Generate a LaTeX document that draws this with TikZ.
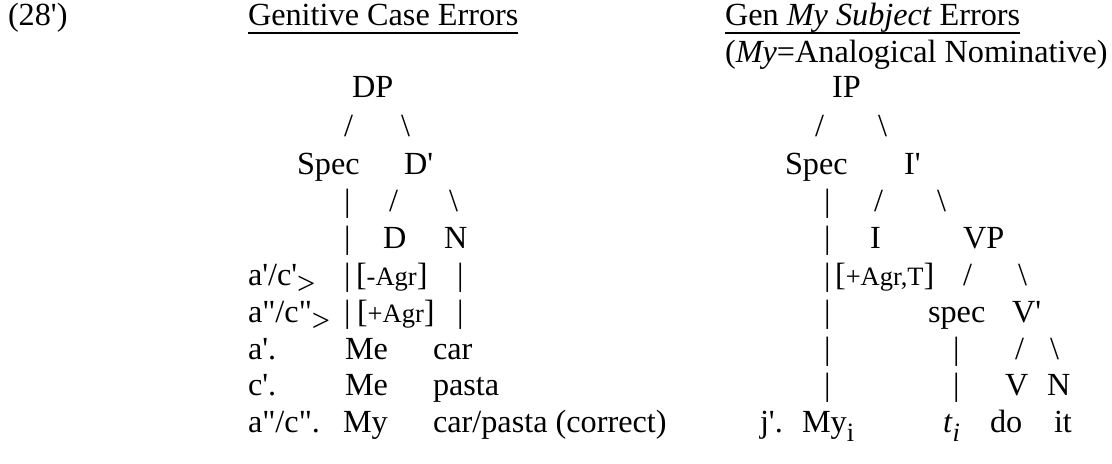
\documentclass[tikz,border=0pt]{standalone}
\usepackage{fontspec}
\setmainfont{Liberation Serif}
\usepackage{tikz}
% straight tick marks, kept out of the tex-text mapping
\newcommand{\tk}{\XeTeXglyph\XeTeXcharglyph"27\relax}
\newcommand{\dtk}{\XeTeXglyph\XeTeXcharglyph"22\relax}
\newcommand{\sm}{\fontsize{10.6}{12}\selectfont}
\newcommand{\low}[1]{\raisebox{-3.6pt}{#1}}

\begin{document}
\begin{tikzpicture}[x=0.4pt, y=-0.4pt]
          \tikzstyle{w} = [anchor=base west, inner sep=0pt, outer sep=0pt, font=\fontsize{12.9}{14}\selectfont]
          \tikzstyle{uline} = [line width=0.8pt]

          \useasboundingbox (0,0) rectangle (1112,463);

          % headings
          \node[w] (ex) at (8,25) {(28\tk)};
          \node[w] (ttl) at (248,25) {Genitive Case Errors};
          \node[w] (ttr) at (725,25) {Gen \textit{My Subject} Errors};
          \node[w] (sub) at (725,62) {(\textit{My}=Analogical Nominative)};
          \draw[uline] ([yshift=-3pt]ttl.base west) -- ([yshift=-3pt]ttl.base east);
          \draw[uline] ([yshift=-3pt]ttr.base west) -- ([yshift=-3pt]ttr.base east);

          % DP tree
          \node[w] (dp) at (352,97) {DP};
          \node[w] (dpsl) at (344,136) {/};
          \node[w] (dpbs) at (401,136) {\textbackslash};
          \node[w] (dspec) at (297,174) {Spec};
          \node[w] (dbar) at (404,174) {D\tk};
          \node[w] (dv1) at (344,211) {|};
          \node[w] (dbsl) at (389,211) {/};
          \node[w] (dbbs) at (449,211) {\textbackslash};
          \node[w] (dv2) at (344,248) {|};
          \node[w] (d) at (383,248) {D};
          \node[w] (n) at (444,248) {N};
          \node[w] (ac1) at (248,285) {a\tk/c\tk\low{>}};
          \node[w] (dv3) at (344,285) {|};
          \node[w] (fneg) at (356,285) {[{\sm -Agr}]};
          \node[w] (nv3) at (457,285) {|};
          \node[w] (ac2) at (248,322) {a\dtk/c\dtk\low{>}};
          \node[w] (dv4) at (344,322) {|};
          \node[w] (fpos) at (357,322) {[{\sm +Agr}]};
          \node[w] (nv4) at (457,322) {|};

          % DP examples
          \node[w] (xa) at (248,359) {a\tk.};
          \node[w] (xame) at (345,359) {Me};
          \node[w] (xacar) at (433,359) {car};
          \node[w] (xc) at (248,395) {c\tk.};
          \node[w] (xcme) at (345,395) {Me};
          \node[w] (xcpasta) at (433,395) {pasta};
          \node[w] (xac) at (248,432) {a\dtk/c\dtk.};
          \node[w] (xacmy) at (343,432) {My};
          \node[w] (xacnoun) at (433,432) {car/pasta (correct)};

          % IP tree
          \node[w] (ip) at (832,97) {IP};
          \node[w] (ipsl) at (815,136) {/};
          \node[w] (ipbs) at (878,136) {\textbackslash};
          \node[w] (ispec) at (785,174) {Spec};
          \node[w] (ibar) at (904,174) {I\tk};
          \node[w] (iv1) at (824,211) {|};
          \node[w] (ibsl) at (874,211) {/};
          \node[w] (ibbs) at (937,211) {\textbackslash};
          \node[w] (iv2) at (824,248) {|};
          \node[w] (i) at (870,248) {I};
          \node[w] (vp) at (963,248) {VP};
          \node[w] (iv3) at (824,285) {|};
          \node[w] (fagr) at (835,285) {[{\sm +Agr,T}]};
          \node[w] (vpsl) at (963,285) {/};
          \node[w] (vpbs) at (1018,285) {\textbackslash};
          \node[w] (iv4) at (824,322) {|};
          \node[w] (vspec) at (928,322) {spec};
          \node[w] (vbar) at (1012,322) {V\tk};
          \node[w] (iv5) at (824,359) {|};
          \node[w] (sv5) at (953,359) {|};
          \node[w] (vbsl) at (1015,359) {/};
          \node[w] (vbbs) at (1050,359) {\textbackslash};
          \node[w] (iv6) at (824,395) {|};
          \node[w] (sv6) at (953,395) {|};
          \node[w] (v) at (1005,395) {V};
          \node[w] (vn) at (1047,395) {N};

          % IP example
          \node[w] (xj) at (760,432) {j\tk.};
          \node[w] (xjmy) at (802,432) {My\low{\sm i}};
          \node[w] (xjt) at (943,432) {\textit{t}\low{\sm\itshape i}};
          \node[w] (xjdo) at (990,432) {do};
          \node[w] (xjit) at (1054,432) {it};
        \end{tikzpicture}
\end{document}
